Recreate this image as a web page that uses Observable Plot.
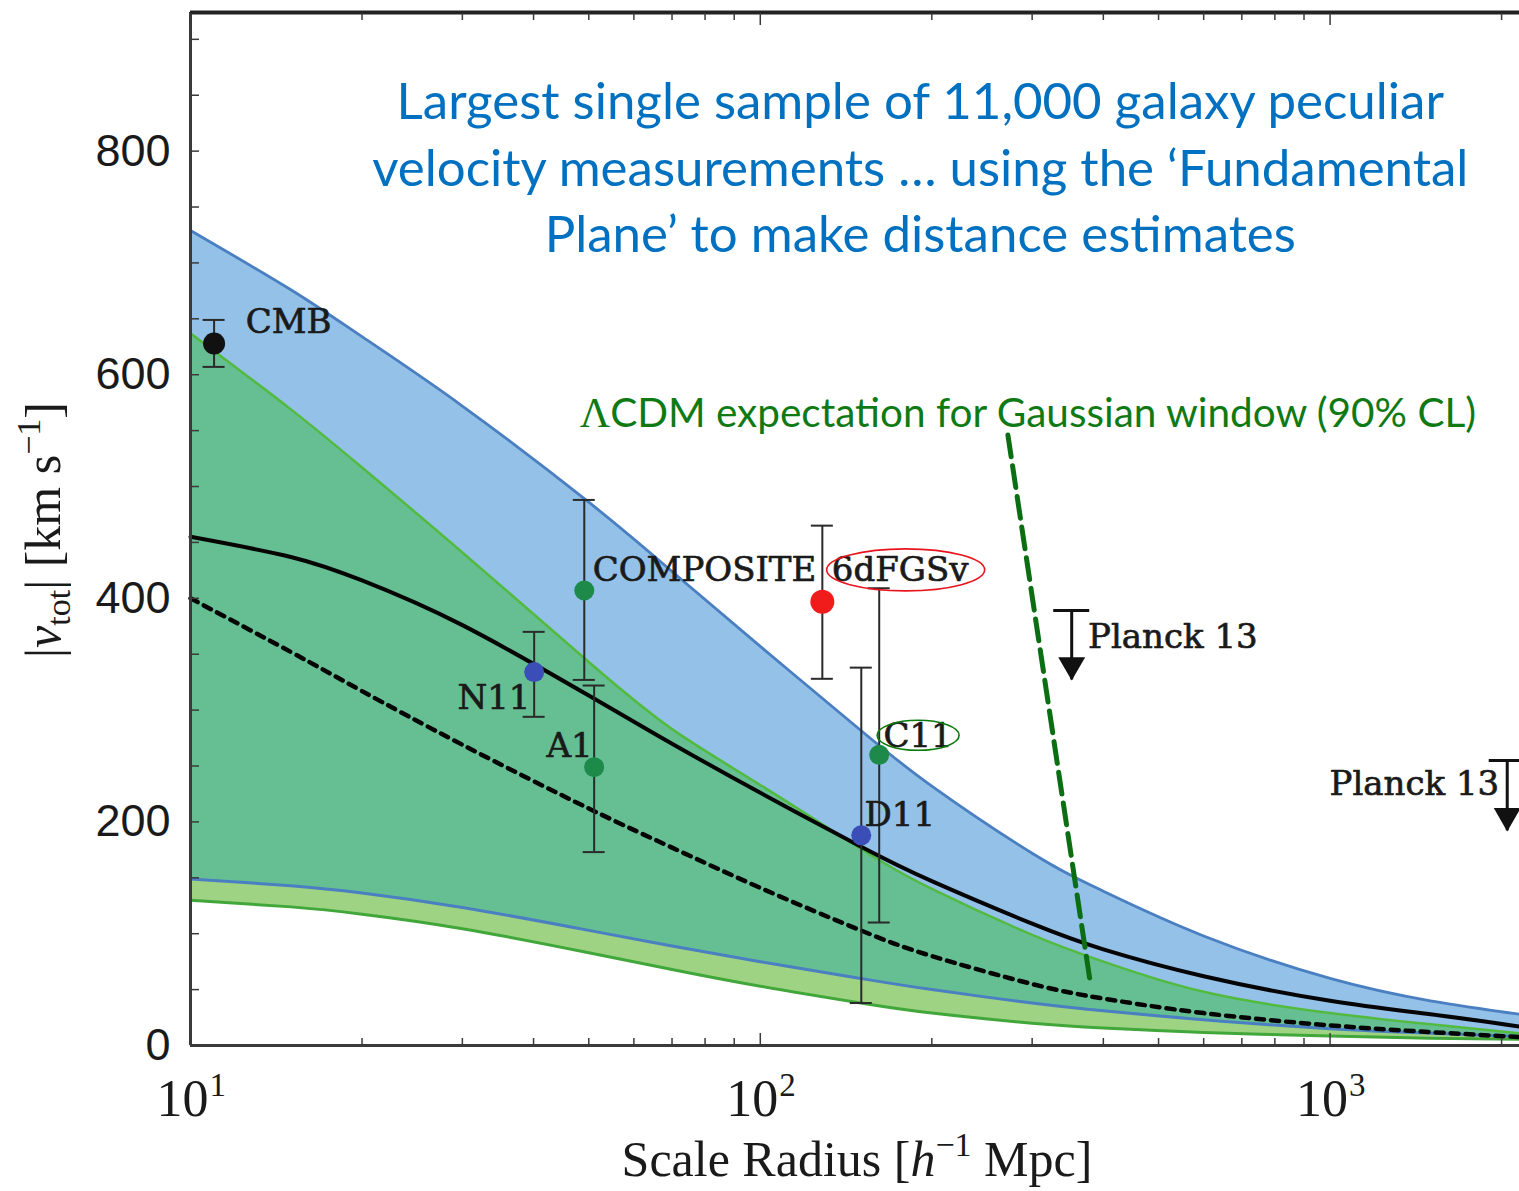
<!DOCTYPE html>
<html><head><meta charset="utf-8">
<script src="https://cdn.jsdelivr.net/npm/d3@7"></script>
<script src="https://cdn.jsdelivr.net/npm/@observablehq/plot@0.6"></script>
<style>html,body{margin:0;padding:0;background:#fff;} svg{display:block;}</style>
</head><body><div id="chart"></div>
<script>
// ---- curves (scale radius in h^-1 Mpc, |v_tot| in km/s) ----
const radius      = [10, 15, 20, 30, 50, 70, 100, 150, 200, 300, 400, 600, 1000, 1500, 2150];
const blueUpper   = [729, 676, 634, 572, 486, 424, 357, 282, 232, 172, 138, 98, 60, 40, 28];
const blueLower   = [149, 143, 136.5, 123.5, 103, 89, 75, 60, 50, 38, 31, 23, 15, 11, 8];
const greenUpper  = [637, 569, 517, 441, 343, 283, 233, 176, 140, 99, 75, 48, 29, 19, 11];
const greenLower  = [130, 124, 117.5, 104.5, 83, 68, 53, 38, 29, 20, 15.7, 11.7, 8.5, 6.5, 5.6];
const meanSolid   = [455, 437, 416, 376, 313, 270, 226, 178, 147, 109, 86, 62, 40, 28, 17];
const meanDotted  = [400, 352, 317, 269, 212, 177, 141, 103, 80, 55, 42, 29, 18, 12, 7.5];

// ---- measurements ----
const pointNames  = ["CMB", "COMPOSITE", "N11", "A1", "6dFGSv", "C11", "D11"];
const pointR      = [11.0, 49.1, 40.1, 51.1, 128.5, 161.7, 150.4];
const pointV      = [628, 407, 334, 249, 397, 260, 188];
const errLow      = [607, 327, 294, 173, 328, 110, 38];
const errHigh     = [649, 488, 370, 322, 465, 409, 338];
const pointColors = ["#111111", "#1e8a4a", "#3b4db6", "#1e8a4a", "#f01c1c", "#1e8a4a", "#3b4db6"];
const pointSizes  = [11, 10, 10, 10, 12, 10, 10];

// ---- point labels ----
const labelText   = ["CMB", "COMPOSITE", "N11", "A1", "6dFGSv", "C11", "D11", "Planck 13", "Planck 13"];
const labelR      = [12.5, 50.8, 39.5, 50.8, 133.5, 164.5, 152.4, 376, 1981];
const labelV      = [647, 425, 311, 268, 425, 277, 206, 365, 234];
const labelAnchor = ["start", "start", "end", "end", "start", "start", "start", "start", "end"];

// ---- upper limits (Planck 13) ----
const limitR      = [352, 2046];
const limitV      = [389, 255];
const limitTipV   = [327, 192];

// ---- highlight ellipses ----
const ellipseR    = [180.3, 189.6];
const ellipseV    = [425, 277];
const ellipseColor= ["#e8141c", "#0a7a0a"];

// ---- annotations ----
const titleLines  = ["Largest single sample of 11,000 galaxy peculiar",
                     "velocity measurements \u2026 using the \u2018Fundamental",
                     "Plane\u2019 to make distance estimates"];
const titleR      = [190.9, 190.9, 190.9];
const titleV      = [843, 783, 724];
const noteR       = 48.3, noteV = 564;
const windowLineR = [272, 379];
const windowLineV = [546, 58];

// ---- axes ----
const yTicks      = [0, 200, 400, 600, 800];
const yMinor      = [0, 50, 100, 150, 200, 250, 300, 350, 400, 450, 500, 550, 600, 650, 700, 750, 800, 850, 900];
const xMajor      = [10, 100, 1000];
const xTickBase   = ["10", "10", "10"];
const xTickExp    = ["1", "2", "3"];
const xMinor      = [20, 30, 40, 50, 60, 70, 80, 90, 200, 300, 400, 500, 600, 700, 800, 900, 2000];

const rows = radius.map((r, i) => ({r, bHi: blueUpper[i], bLo: blueLower[i], gHi: greenUpper[i], gLo: greenLower[i], mean: meanSolid[i], alt: meanDotted[i]}));
const pts = pointNames.map((n, i) => ({n, r: pointR[i], v: pointV[i], lo: errLow[i], hi: errHigh[i], c: pointColors[i], s: pointSizes[i]}));
const labels = labelText.map((t, i) => ({t, r: labelR[i], v: labelV[i], a: labelAnchor[i]}));
const limits = limitR.map((r, i) => ({r, v: limitV[i], tip: limitTipV[i]}));
const windowLine = windowLineR.map((r, i) => ({r, v: windowLineV[i]}));
const titles = titleLines.map((t, i) => ({t, r: titleR[i], v: titleV[i]}));
const xLabels = xMajor.map((r, i) => ({r, b: xTickBase[i], e: xTickExp[i]}));

const curve = "natural";
const serif = "'DejaVu Serif', serif";
const frameColor = "#3a3a3a";
const labelStyle = {x: "r", y: "v", text: "t", fontSize: 34, fontFamily: serif, fill: "#1a1a1a", stroke: "#1a1a1a", strokeWidth: 0.7};

const plot = Plot.plot({
  width: 1519, height: 1191,
  marginLeft: 190, marginRight: 0, marginTop: 12, marginBottom: 146,
  x: {type: "log", domain: [10, 2150]},
  y: {domain: [0, 924]},
  r: {type: "identity"},
  style: {background: "#fff", overflow: "visible"},
  marks: [
    Plot.areaY(rows, {x: "r", y1: "bLo", y2: "bHi", fill: "#93c1e8", curve}),
    Plot.areaY(rows, {x: "r", y1: "gLo", y2: "gHi", fill: "#9ed384", curve}),
    Plot.areaY(rows, {x: "r", y1: "bLo", y2: "gHi", fill: "#66bf93", curve}),
    Plot.line(rows, {x: "r", y: "bHi", stroke: "#4a7fc1", strokeWidth: 2.8, curve}),
    Plot.line(rows, {x: "r", y: "bLo", stroke: "#4a7fc1", strokeWidth: 3, curve}),
    Plot.line(rows, {x: "r", y: "gHi", stroke: "#52bb3f", strokeWidth: 2.5, curve}),
    Plot.line(rows, {x: "r", y: "gLo", stroke: "#41a73a", strokeWidth: 3, curve}),
    Plot.line(rows, {x: "r", y: "mean", stroke: "#050505", strokeWidth: 4, curve}),
    Plot.line(rows, {x: "r", y: "alt", stroke: "#050505", strokeWidth: 4.5, strokeDasharray: "8,7", curve}),
    // frame
    Plot.ruleX([10], {stroke: frameColor, strokeWidth: 3}),
    Plot.ruleY([0], {stroke: frameColor, strokeWidth: 3}),
    Plot.ruleY([924], {stroke: "#222", strokeWidth: 4}),
    // ticks
    Plot.axisY({ticks: yMinor, tickSize: -9, text: null, label: null, anchor: "left", stroke: frameColor, strokeWidth: 1.5}),
    Plot.axisY({ticks: yTicks, tickSize: 0, tickPadding: 20, label: null, anchor: "left", fontSize: 45, fontFamily: "'Liberation Sans', sans-serif", fill: "#1a1a1a"}),
    Plot.axisX({ticks: xMinor, tickSize: -7, text: null, label: null, anchor: "bottom", stroke: frameColor, strokeWidth: 1.5}),
    Plot.axisX({ticks: xMajor, tickSize: -12, text: null, label: null, anchor: "bottom", stroke: frameColor, strokeWidth: 1.5}),
    Plot.axisX({ticks: xMinor, tickSize: -7, text: null, label: null, anchor: "top", stroke: frameColor, strokeWidth: 1.5}),
    Plot.axisX({ticks: xMajor, tickSize: -12, text: null, label: null, anchor: "top", stroke: frameColor, strokeWidth: 1.5}),
    Plot.text(xLabels, {x: "r", text: "b", frameAnchor: "bottom", lineAnchor: "top", textAnchor: "middle", dx: -8, dy: 34, fontSize: 52, fontFamily: "'Liberation Serif', serif", fill: "#1a1a1a"}),
    Plot.text(xLabels, {x: "r", text: "e", frameAnchor: "bottom", lineAnchor: "top", textAnchor: "start", dx: 19, dy: 27, fontSize: 33, fontFamily: "'Liberation Serif', serif", fill: "#1a1a1a"}),
    // error bars
    Plot.ruleX(pts, {x: "r", y1: "lo", y2: "hi", stroke: "#2a2a2a", strokeWidth: 2}),
    Plot.ruleY(pts, {y: "lo", x1: "r", x2: "r", insetLeft: -11, insetRight: -11, stroke: "#2a2a2a", strokeWidth: 2}),
    Plot.ruleY(pts, {y: "hi", x1: "r", x2: "r", insetLeft: -11, insetRight: -11, stroke: "#2a2a2a", strokeWidth: 2}),
    Plot.dot(pts, {x: "r", y: "v", r: "s", fill: "c", stroke: null}),
    // upper limits
    Plot.ruleX(limits, {x: "r", y1: "tip", y2: "v", stroke: "#111", strokeWidth: 3}),
    Plot.ruleY(limits, {y: "v", x1: "r", x2: "r", insetLeft: -18, insetRight: -18, stroke: "#111", strokeWidth: 3}),
    Plot.dot(limits, {x: "r", y: "tip", symbol: "triangle", rotate: 180, r: 10, dy: -15, fill: "#111", stroke: null}),
    // labels
    Plot.text(labels.filter(d => d.a === "start"), {...labelStyle, textAnchor: "start"}),
    Plot.text(labels.filter(d => d.a === "end"), {...labelStyle, textAnchor: "end"}),
    // window line
    Plot.line(windowLine, {x: "r", y: "v", stroke: "#0b6e12", strokeWidth: 5, strokeDasharray: "22,9"}),
    // title
    Plot.text(titles, {x: "r", y: "v", text: "t", textAnchor: "middle", lineAnchor: "middle", fontSize: 51, fontFamily: "Lato, sans-serif", fill: "#0070c0"})
  ]
});

const svg = d3.select(plot);
const xs = plot.scale("x"), ys = plot.scale("y");

// highlight ellipses
ellipseR.forEach((r, i) => {
  svg.append("ellipse").attr("cx", xs.apply(r)).attr("cy", ys.apply(ellipseV[i]))
    .attr("rx", i === 0 ? 79 : 41).attr("ry", i === 0 ? 21 : 15)
    .attr("fill", "none").attr("stroke", ellipseColor[i]).attr("stroke-width", 1.6);
});

// green note
const note = svg.append("text").attr("x", xs.apply(noteR)).attr("y", ys.apply(noteV)).attr("dy", "0.32em")
  .attr("text-anchor", "start").attr("fill", "#0f7a14").attr("font-size", 40.5).attr("font-family", "Lato, sans-serif");
note.append("tspan").attr("font-family", "'Liberation Serif', serif").attr("font-size", 42).text("\u039b");
note.append("tspan").text("CDM expectation for Gaussian window (90% CL)");

// axis titles
const ylab = svg.append("text").attr("transform", "translate(60,530) rotate(-90)").attr("text-anchor", "middle")
  .attr("font-family", "'Liberation Serif', serif").attr("font-size", 50).attr("fill", "#1a1a1a");
ylab.append("tspan").text("|");
ylab.append("tspan").attr("font-style", "italic").text("v");
ylab.append("tspan").attr("font-size", 34).attr("dy", 10).text("tot");
ylab.append("tspan").attr("dy", -10).text("| [km s");
ylab.append("tspan").attr("font-size", 34).attr("dy", -20).text("\u22121");
ylab.append("tspan").attr("dy", 20).text("]");

const xlab = svg.append("text").attr("x", 857).attr("y", 1176).attr("text-anchor", "middle")
  .attr("font-family", "'Liberation Serif', serif").attr("font-size", 50).attr("fill", "#1a1a1a");
xlab.append("tspan").text("Scale Radius [");
xlab.append("tspan").attr("font-style", "italic").text("h");
xlab.append("tspan").attr("font-size", 34).attr("dy", -20).text("\u22121");
xlab.append("tspan").attr("dy", 20).text(" Mpc]");

document.getElementById("chart").appendChild(plot);
</script>
</body></html>
